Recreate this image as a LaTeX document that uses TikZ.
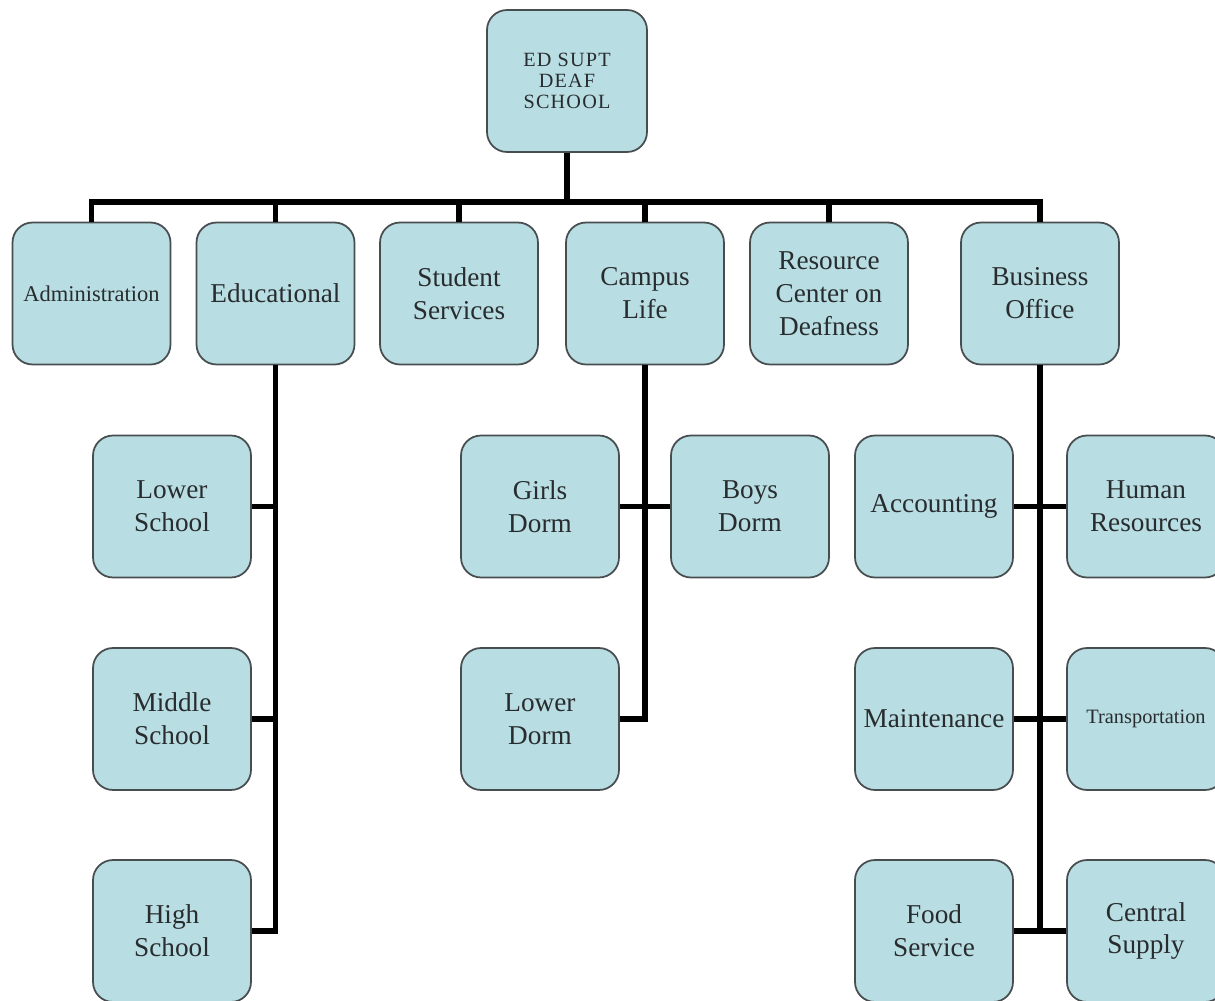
\documentclass[tikz,border=0pt]{standalone}
\usepackage{fontspec}
\setmainfont{Liberation Serif}
\definecolor{boxfill}{RGB}{184,221,226}
\definecolor{boxline}{RGB}{72,78,80}
\definecolor{txt}{RGB}{40,44,46}
\begin{document}
\begin{tikzpicture}[x=0.02cm,y=-0.02cm,
  orgbox/.style={draw=boxline, line width=1pt, fill=boxfill, rounded corners=0.4cm,
    minimum width=3.16cm, minimum height=2.84cm, align=center, text=txt, inner sep=1pt,
    font=\fontsize{15.5}{18.7}\selectfont},
  smalltext/.style={font=\fontsize{12.8}{14}\selectfont},
  tinytext/.style={font=\fontsize{11.6}{13}\selectfont},
  conn/.style={line width=3pt, black, line join=miter}]
\useasboundingbox (0,0) rectangle (1215,1001);
\fill[white] (0,0) rectangle (1215,1001);

\node[orgbox, minimum width=3.2cm, font=\fontsize{11.5}{11.8}\selectfont\addfontfeature{LetterSpace=6}] (top) at (567,81) {ED SUPT\\DEAF\\SCHOOL};

\node[orgbox, smalltext] (adm) at (91.5,293.5) {Administration};
\node[orgbox] (edu) at (275.5,293.5) {Educational};
\node[orgbox] (stu) at (459,293.5) {Student\\Services};
\node[orgbox] (cam) at (645,293.5) {Campus\\Life};
\node[orgbox] (res) at (829,293.5) {Resource\\Center on\\Deafness};
\node[orgbox] (bus) at (1040,293.5) {Business\\Office};

\node[orgbox] (ls) at (172,506.5) {Lower\\School};
\node[orgbox] (ms) at (172,719) {Middle\\School};
\node[orgbox] (hs) at (172,931) {High\\School};

\node[orgbox] (gd) at (540,506.5) {Girls\\Dorm};
\node[orgbox] (bd) at (750,506.5) {Boys\\Dorm};
\node[orgbox] (ld) at (540,719) {Lower\\Dorm};

\node[orgbox] (acc) at (934,506.5) {Accounting};
\node[orgbox] (hr) at (1146,506.5) {Human\\Resources};
\node[orgbox] (mai) at (934,719) {Maintenance};
\node[orgbox, tinytext] (tra) at (1146,719) {Transportation};
\node[orgbox] (fs) at (934,931) {Food\\Service};
\node[orgbox] (cs) at (1146,931) {Central\\Supply};

\coordinate (bar) at (567,202);
\draw[conn] (top.south) -- (bar);
\draw[conn] (adm.north) |- (bar) -| (bus.north);
\foreach \n in {edu,stu,cam,res} \draw[conn] (\n.north) -- (\n.north |- bar);

% Educational
\draw[conn] (edu.south) |- (hs.east);
\draw[conn] (ls.east) -- (ls.east -| edu.south);
\draw[conn] (ms.east) -- (ms.east -| edu.south);

% Campus Life
\draw[conn] (cam.south) |- (ld.east);
\draw[conn] (gd.east) -- (bd.west);

% Business Office
\draw[conn] (bus.south) -- (bus.south |- fs.east);
\draw[conn] (acc.east) -- (hr.west);
\draw[conn] (mai.east) -- (tra.west);
\draw[conn] (fs.east) -- (cs.west);
\end{tikzpicture}
\end{document}
